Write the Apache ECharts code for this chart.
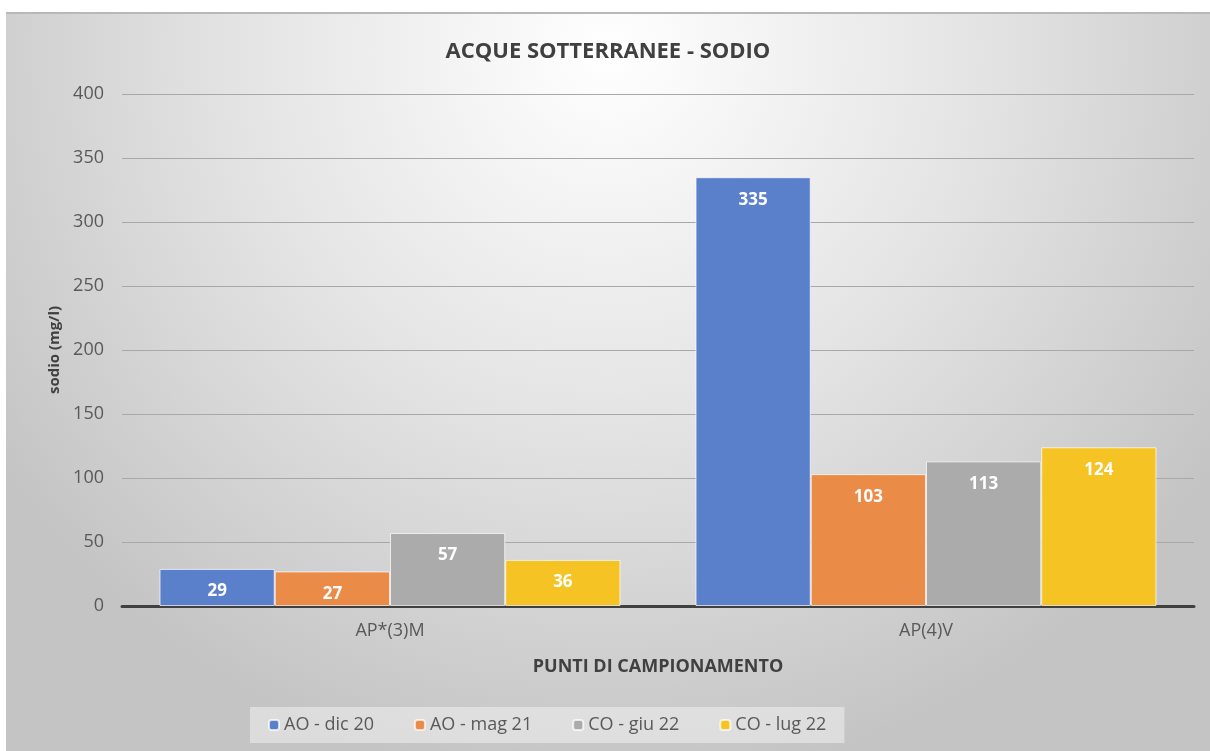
<!DOCTYPE html>
<html>
<head>
<meta charset="utf-8">
<script src="https://cdn.jsdelivr.net/npm/echarts@6/dist/echarts.min.js"></script>
<style>
  html, body { margin: 0; padding: 0; background: #fff; }
  #chart { position: absolute; left: 6px; top: 12px; width: 1204px; height: 739px; border-top: 2px solid #b8b8b8; box-sizing: border-box; }
</style>
</head>
<body>
<div id="chart"></div>
<script>
const categories = ['AP*(3)M', 'AP(4)V']
const seriesNames = ['AO - dic 20', 'AO - mag 21', 'CO - giu 22', 'CO - lug 22']
const aoDic20 = [29, 335]
const aoMag21 = [27, 103]
const coGiu22 = [57, 113]
const coLug22 = [36, 124]
const yTicks = { min: 0, max: 400, interval: 50 }

const colors = ['#5A80CB', '#EB8B48', '#ABABAB', '#F6C325']
const textColor = '#595959'
const font = '"Open Sans", "Noto Sans", sans-serif'

const chart = echarts.init(document.getElementById('chart'))

const makeSeries = (name, data, i) => ({
  name,
  type: 'bar',
  data,
  barGap: '0%',
  barCategoryGap: '14%',
  itemStyle: { color: colors[i], borderColor: 'rgba(255,255,255,0.7)', borderWidth: 1 },
  label: {
    show: true,
    position: 'insideTop',
    distance: 14,
    color: '#fff',
    fontWeight: 'bold',
    fontSize: 17,
    fontFamily: font
  }
})

chart.setOption({
  backgroundColor: new echarts.graphic.RadialGradient(0.5, 0.05, 1.0, [
    { offset: 0, color: '#ffffff' },
    { offset: 0.5, color: '#e4e4e4' },
    { offset: 1, color: '#c4c4c4' }
  ]),
  title: {
    text: 'ACQUE SOTTERRANEE - SODIO',
    left: 'center',
    top: 22,
    textStyle: { color: '#404040', fontSize: 22, fontWeight: 'bold', fontFamily: font }
  },
  legend: {
    data: seriesNames,
    bottom: 8,
    left: 244,
    itemWidth: 10,
    itemHeight: 10,
    itemGap: 40,
    padding: [9, 18],
    backgroundColor: 'rgba(240,240,240,0.55)',
    textStyle: { color: textColor, fontSize: 18, fontFamily: font }
  },
  grid: { left: 116, right: 16, top: 80, bottom: 145 },
  xAxis: {
    type: 'category',
    data: categories,
    name: 'PUNTI DI CAMPIONAMENTO',
    nameLocation: 'middle',
    nameGap: 52,
    nameTextStyle: { color: '#404040', fontWeight: 'bold', fontSize: 18, fontFamily: font },
    axisLine: { lineStyle: { color: '#404040', width: 3 } },
    axisTick: { show: false },
    axisLabel: { color: textColor, fontSize: 18, margin: 16, fontFamily: font }
  },
  yAxis: {
    type: 'value',
    min: yTicks.min,
    max: yTicks.max,
    interval: yTicks.interval,
    name: 'sodio (mg/l)',
    nameLocation: 'middle',
    nameGap: 60,
    nameTextStyle: { color: '#404040', fontWeight: 'bold', fontSize: 15, fontFamily: font },
    axisLine: { show: false },
    axisTick: { show: false },
    axisLabel: { color: textColor, fontSize: 18, margin: 18, fontFamily: font },
    splitLine: { lineStyle: { color: '#a8a8a8', width: 1 } }
  },
  series: [
    makeSeries(seriesNames[0], aoDic20, 0),
    makeSeries(seriesNames[1], aoMag21, 1),
    makeSeries(seriesNames[2], coGiu22, 2),
    makeSeries(seriesNames[3], coLug22, 3)
  ]
})
</script>
</body>
</html>
